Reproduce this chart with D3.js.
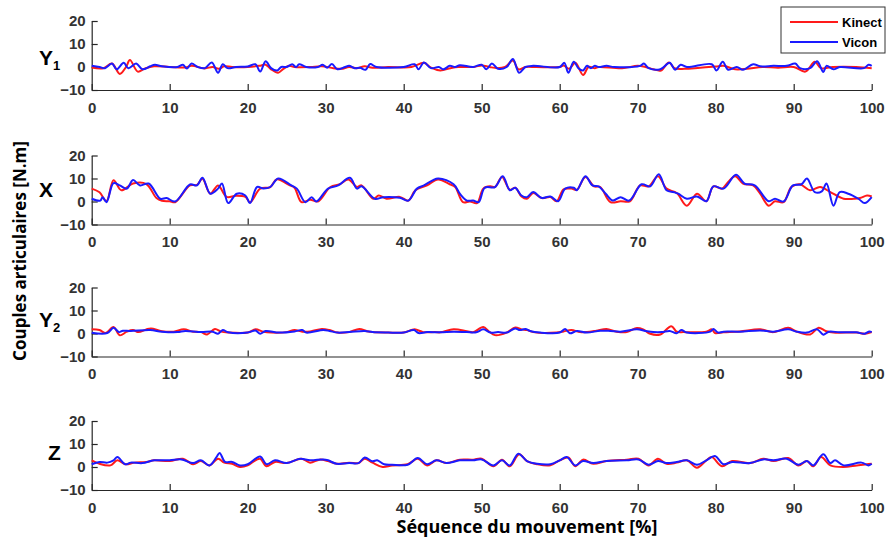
<!DOCTYPE html>
<html><head><meta charset="utf-8">
<script src="https://cdn.jsdelivr.net/npm/d3@7"></script>
<style>body{margin:0;background:#fff}svg{display:block}</style>
</head><body>
<svg id="c" width="887" height="544"></svg>
<script>
const xTicks = [0,10,20,30,40,50,60,70,80,90,100];
const yTicks = [-10,0,10,20];
const panelNames = ["Y","X","Y","Z"];
const panelSubs = ["1","","2",""];
const seriesNames = ["Kinect","Vicon"];
const seriesColors = ["#ff1a1a","#1a1aff"];

const y1Kinect = [[0,-0.2],[1.5,-0.5],[2.6,1.5],[3.6,-3],[4.4,0],[4.9,3],[5.9,-2],[6.8,-0.7],[8,0.3],[10,0],[12,-0.2],[12.8,0.5],[14.5,-0.6],[15.5,0],[16.3,-0.8],[17,0.3],[18,0],[20,0],[21.5,0.5],[22.3,1],[23,-1],[23.9,-2.5],[24.5,-1],[25.3,0.5],[26,0],[28,0],[29.5,0.3],[31,-0.5],[32,-0.8],[33,0],[34,-0.5],[35,0.3],[36,-0.3],[38,0],[41,0],[42.6,1.8],[43.5,-0.3],[44.7,-1.5],[46,-0.5],[47,0],[49,0],[50,0.7],[51,0],[52,-0.5],[53,0],[54,2.8],[54.7,-1],[55.6,0],[57,0],[60,0],[60.5,0.7],[61.2,-0.8],[62,1.8],[63,-3.5],[63.7,0],[64.5,-0.5],[65,0],[68,-0.5],[70,0.5],[71,0],[72,-1],[73,-1.5],[74,2],[74.7,-0.5],[76,-0.8],[78,-0.3],[80,0.2],[81,0.5],[82.5,-1],[84,-0.8],[86,0],[88,-0.3],[90,0],[91.5,-2],[92.7,2.3],[93.5,-0.5],[95,0],[98,0],[100,-0.5]];
const y1Vicon = [[0,0.5],[1,0],[1.7,-0.5],[2.6,1.5],[3.2,-1],[4.1,1.8],[4.7,-0.5],[5.7,1.5],[6.5,-1],[7.5,0.3],[8.1,1],[9,0.3],[11,0],[11.7,1],[12.2,-0.7],[12.8,1.5],[13.6,0],[14.5,-0.5],[15.4,2],[16.2,-2.5],[16.8,1.2],[17.4,-0.5],[18.5,0],[20,0.2],[21,1.2],[21.6,-2],[22.3,2.5],[23,-0.5],[23.8,-1.5],[24.3,0],[25,0],[25.7,1.2],[26.2,0],[26.6,1.2],[27.5,0],[29,0],[29.6,1],[30.2,-0.3],[30.8,1.3],[31.5,-1],[32.5,0],[33,0.5],[33.7,-0.5],[34.4,-0.3],[35.1,-1.2],[35.7,1.3],[36.5,0],[40,0],[41.4,1.2],[41.9,-1],[42.6,2],[43.5,-0.5],[44.5,0],[45.1,-1],[45.9,0.5],[46.6,0],[47.2,0.8],[48.9,0],[50,1],[50.6,-1],[51.3,1.5],[52.1,-0.8],[53.2,0],[54,3.5],[54.8,-2.5],[55.6,0],[56.6,0.5],[60,0],[60.6,1.8],[61.1,-2.5],[61.8,2.3],[62.4,-0.5],[63,-1.5],[63.5,0.5],[64,-0.5],[64.5,0.5],[65,0],[66,0.5],[67,0],[70.3,0.5],[70.8,1.5],[71.4,-0.5],[72.9,-1],[74.1,1.8],[74.8,-1.2],[75.5,1],[76.3,0],[79.5,1.2],[80.1,-1.5],[80.9,2.3],[81.6,-1.2],[82.7,0],[83.5,-1.2],[84.8,1.2],[85.7,0.3],[87.4,0.5],[89.1,0.5],[90.2,1.5],[90.8,-0.5],[92.1,-0.5],[93,2.5],[93.8,-2.2],[94.2,0.5],[95.1,-1],[95.9,0],[99,-0.5],[99.6,1],[100,0.5]];

const xKinect = [[0,5.6],[1,4],[1.9,0.2],[2.8,9.2],[3.8,4.9],[5.3,7.8],[7,7.6],[8.3,1.5],[9,0.3],[10,0.1],[10.7,-0.3],[12.6,7],[13.5,7.2],[14.2,9.9],[15.2,3.4],[16.2,7],[17.3,2],[18.5,2.5],[19.7,2],[20.3,-0.3],[21.6,5.6],[22.9,6.3],[23.7,9.6],[25.4,7],[26,6],[26.9,-0.3],[28,0.8],[29,0],[30.6,6.3],[31.8,7.5],[32.9,9.6],[34,6.3],[34.6,7],[36.1,1.2],[36.8,2.6],[37.8,1.2],[39.5,2],[40.6,0.4],[41.5,4.9],[43,7],[44.4,9.6],[45.9,7.5],[46.6,6.3],[47.6,-0.3],[48.5,0],[49.4,-0.7],[50.2,5.6],[51.1,6.6],[51.7,6.3],[52.6,10.7],[53.6,5.1],[54.3,6],[55.1,2.2],[55.8,1.2],[56.6,3.7],[57.7,1.5],[58.8,1.9],[59.6,0.1],[60.5,5.3],[61.5,5.6],[62.2,5.1],[63.3,10.7],[64.4,6.6],[65.2,6.3],[66.5,-0.3],[67.8,0.1],[69,0.1],[70.3,7],[71.4,6.6],[72.6,11],[73.7,5.6],[75,3.7],[76.3,-1.8],[77.6,3.4],[78.8,0.1],[79.7,6.6],[80.8,5.6],[81.6,8.5],[82.5,11],[83.5,7.8],[84.8,7],[85.7,3.4],[86.8,-1.8],[87.6,0.1],[88.7,-0.3],[89.7,6.3],[90.8,7.5],[92.1,4.9],[93.4,6.3],[94.7,4.1],[96.4,1.2],[97.7,1.2],[98.5,1.5],[99.4,2.6],[100,2.2]];
const xVicon = [[0,1.2],[1.1,0.4],[1.4,1.9],[1.9,-0.3],[2.8,8],[3.6,7],[4.5,5.6],[5.3,9.3],[6.2,7],[7.3,7.8],[8.8,1.2],[9.6,1.5],[10.7,0],[12.6,7.4],[13.5,7],[14.2,10.3],[15.2,3.4],[16.2,5.6],[16.7,7.8],[17.5,-0.7],[18.6,3.4],[19.7,2.6],[20.3,-0.7],[21.2,6.3],[22,5.6],[22.9,6.3],[23.9,10],[25.6,7],[26.3,5.6],[27.4,-0.3],[28.2,1.9],[28.8,0],[30.3,5.6],[31.6,7],[33.1,10.3],[34,5.6],[34.6,6.6],[36.3,1.2],[37.4,1.9],[39.5,1.6],[40.6,0.4],[41.7,5.6],[42.6,7],[44.4,10],[46.4,7.5],[47.2,3.4],[48.1,0.4],[48.9,0.4],[49.6,-0.3],[50.4,6],[51.7,6.3],[52.7,11],[53.6,4.9],[54.3,6],[55.1,2.6],[55.8,1.9],[56.6,4.1],[57.7,1.5],[58.8,2.2],[59.8,0.1],[60.7,5.6],[61.8,6],[62.2,4.9],[63.3,11],[64.2,7],[65,6.6],[65.9,3.4],[66.8,0.4],[67.8,1.9],[68.9,0.4],[70.5,7.5],[71.6,6.6],[72.7,11.9],[73.7,4.9],[74.6,4.1],[75.2,3.4],[76.3,1.2],[77.6,2.2],[78.8,0.1],[79.7,6.6],[81,5.6],[82.6,11.6],[83.7,7.8],[85,7],[86.8,0.1],[87.6,1.2],[88.7,0],[89.9,7],[91,7.5],[91.7,10],[92.7,4.1],[93.6,4.4],[94.2,7.8],[95.1,-1.8],[95.9,4.1],[97,3.4],[98.3,1.2],[99.1,-0.7],[100,1.9]];

const y2Kinect = [[0,1.8],[1,1.5],[1.8,0.2],[2.8,2.8],[3.6,-0.8],[4.5,0.8],[5.3,1.5],[6,0.6],[7,1.8],[7.6,2.2],[9,1],[10.5,0.8],[11.8,1.8],[13,0.8],[14,0.6],[14.8,-0.4],[15.8,2],[16.6,0.8],[17.5,0.4],[20,0.4],[21,1.8],[22,0.8],[23,0.4],[25,0.6],[26,1.5],[27,0.8],[28,0.9],[29.5,2],[30.5,1.5],[31.5,0.4],[33,0.6],[34.3,2],[35.3,1],[36,0.6],[38,0.4],[40,0.4],[41.4,1.8],[42.5,0.6],[44,0.6],[44.7,0.5],[46.4,1.8],[48.1,1],[48.9,0.6],[50.2,2.8],[50.9,1],[51.7,-0.7],[53.2,0.4],[54.3,2.6],[55.1,1.8],[55.8,1.5],[56.6,0.6],[59.6,0.4],[60.5,0.9],[61.5,1.5],[62.6,0.6],[63.5,0.6],[64.7,1.2],[66,2],[67.3,0.8],[68.6,0.6],[69.9,2.4],[70.7,1.8],[71.6,-0.1],[72.9,-0.4],[74.3,3.2],[75,0.8],[75.9,0.6],[78.8,0.8],[79.5,1.8],[79.9,0.2],[81,0.5],[83.1,0.9],[85.7,1.8],[87.4,0.6],[89.3,2.5],[90.4,0.8],[92.1,-0.4],[93.2,2.5],[94.1,1.1],[95.1,0.4],[98.1,0.4],[99.1,-0.1],[100,0.6]];
const y2Vicon = [[0,0.3],[2,0.2],[2.8,2.5],[3.5,0.6],[4,1.2],[5,1.1],[7.5,1.5],[9,0.8],[11,0.6],[12,1.1],[14,0.6],[15.5,0.8],[16.2,-0.1],[16.8,1.5],[17.5,0.5],[20,0.4],[21,1.3],[21.6,-0.1],[22.3,1.1],[24,0.4],[26,0.9],[27,1.5],[27.5,0.4],[29.7,1.5],[30.5,1.1],[31.5,0.4],[33,0.6],[35,1.1],[36,0.6],[38,0.4],[40,0.4],[41.3,1.5],[41.9,0.2],[43,0.6],[44.7,0.5],[46.4,0.8],[48.1,0.6],[49.3,0.5],[50.2,1.8],[51.1,0.4],[52.1,0.6],[53.2,0.4],[54.3,2.2],[54.9,1.5],[55.6,2],[56.2,1.1],[57.5,0.4],[60,0.4],[60.7,2],[61.3,0.1],[62.2,1.1],[63.5,0.4],[65.2,1.2],[66.5,1.1],[67.8,0.8],[69.9,1.8],[71,1.1],[72,0.6],[73.1,0.6],[74.1,1.1],[75,0.1],[75.6,1.5],[76.3,0.4],[79.3,0.8],[79.7,2],[80.3,0.4],[81,0.8],[83.1,0.8],[85.7,1.3],[87.4,0.8],[89.3,1.8],[90.4,0.8],[91.7,0.4],[93,1.8],[93.8,-0.5],[94.5,0.8],[95.9,0.5],[98,0.5],[99.1,-0.1],[99.7,0.9],[100,0.6]];

const zKinect = [[0,2.9],[1,1.4],[2.4,0.7],[3.3,2.9],[4.3,1.2],[5.5,1.9],[7,2.2],[8,2.9],[10,2.6],[11.7,3.6],[13,1.2],[14,2.6],[15.1,0.7],[16.2,3.6],[17,1.9],[18,1.4],[19,0],[20,0.7],[21,2.9],[21.6,3.6],[22.4,0.3],[23.5,2.2],[25,1.7],[26.9,3.6],[28,1.9],[29.2,3.2],[30.3,2.6],[31.4,1.4],[33,1.9],[34.2,1.7],[35,3.6],[36,1.9],[37.3,0],[38.5,0.7],[40.5,1.2],[41.8,3.6],[43,0.7],[44.2,2.9],[45.5,1.7],[47.2,3.2],[48.9,3.2],[50,3.6],[51.5,0.3],[52.6,3.2],[53.6,0.3],[54.8,5.5],[55.8,2.6],[57.1,1.2],[58.8,0.7],[60,2.9],[61.1,4.1],[62,0.3],[63,3.2],[64.3,1.4],[66,2.6],[68.6,3.2],[70.1,3.6],[71.4,0.7],[72.6,3.6],[73.7,1.4],[75,1.9],[76.3,2.9],[77.6,-0.3],[78.8,2.9],[79.5,4.3],[80.8,0.3],[82.1,2.6],[84.4,1.7],[86.1,3.6],[87.4,2.6],[89.3,3.9],[90.6,0.7],[91.7,2.6],[92.5,0.3],[93.5,4.3],[94.7,0.7],[96.4,0],[98.1,0.7],[99.4,1.2],[100,1.4]];
const zVicon = [[0,1.2],[1,2.2],[2,1.9],[2.8,2.9],[3.3,4.3],[4.3,1.2],[5,1.9],[6.5,1.7],[8,2.9],[10,2.9],[11.5,3.3],[13,1.7],[14,2.9],[15.1,0.7],[16,4.3],[16.4,6.1],[17.1,2.2],[18,2.2],[19,0.7],[20,1.2],[21.6,4.6],[22.4,1.2],[23.5,2.9],[25,1.7],[26.7,3.6],[28,2.9],[29.7,3.3],[30.3,2.9],[31.4,1.4],[33,1.7],[34.2,1.7],[35,4.1],[36,2.5],[36.6,2.9],[37.5,1.2],[38.5,1],[40.5,1],[41.8,3.9],[43,1.2],[44.2,2.9],[45.5,1.7],[47.2,2.9],[48.9,2.9],[50,3.3],[51.5,0.7],[52.6,2.9],[53.6,0.7],[54.7,5.8],[55.8,2.6],[57.1,1.4],[58.8,1.2],[60,2.9],[60.9,4.3],[62,0.7],[63,2.6],[64.3,1.7],[66,2.6],[68.6,2.9],[70.1,3.3],[71.4,1],[72.6,2.6],[73.7,1.7],[75,2.2],[76.3,2.9],[77.6,1],[78.8,2.9],[79.9,4.8],[81,1.2],[82.1,2.2],[84.4,1.7],[86.1,3.3],[87.4,2.9],[89.1,3.6],[90.6,1],[91.7,2.6],[92.5,0.7],[93.8,5.5],[94.7,1.7],[95.3,2.9],[96.4,0.7],[98.7,1.9],[99.6,0.7],[100,1.4]];

const panelsData = [[y1Kinect,y1Vicon],[xKinect,xVicon],[y2Kinect,y2Vicon],[zKinect,zVicon]];

const svg = d3.select("#c");
const left = 91.7, right = 871.7;
const tops = [21, 155.5, 287.5, 421];
const ph = 69;
const x = d3.scaleLinear().domain([0,100]).range([left,right]);
const axisColor = "#262626";
const tickFont = "'Liberation Sans', Arial, sans-serif";

panelsData.forEach((pd, i) => {
  const y = d3.scaleLinear().domain([-10,20]).range([tops[i]+ph, tops[i]]);
  const g = svg.append("g");
  const ax = g.append("g").attr("transform", `translate(0,${tops[i]+ph})`)
    .call(d3.axisBottom(x).tickValues(xTicks).tickSize(-6).tickSizeOuter(0).tickPadding(12));
  const ay = g.append("g").attr("transform", `translate(${left},0)`)
    .call(d3.axisLeft(y).tickValues(yTicks).tickSize(-6).tickSizeOuter(0).tickPadding(6));
  [ax, ay].forEach(a => {
    a.select(".domain").attr("stroke", axisColor).attr("stroke-width", 1.2);
    a.selectAll(".tick line").attr("stroke", axisColor).attr("stroke-width", 1.2);
    a.selectAll("text").attr("fill", "#333").attr("font-family", tickFont)
      .attr("font-weight", "bold").attr("font-size", "15px");
  });
  ax.selectAll("text").attr("dy", "0.71em");
  const line = d3.line().x(d => x(d[0])).y(d => y(d[1])).curve(d3.curveCatmullRom.alpha(0.5));
  pd.forEach((s, k) => {
    g.append("path").datum(s).attr("d", line).attr("fill", "none")
      .attr("stroke", seriesColors[k]).attr("stroke-width", 2).attr("stroke-linejoin", "round");
  });
  const lx = [39, 39, 39, 48][i];
  const ly = [65, 197, 327, 460][i];
  const t = svg.append("text").attr("x", lx).attr("y", ly)
    .attr("font-family", tickFont).attr("font-weight", "bold").attr("font-size", "21px").attr("fill", "#000")
    .text(panelNames[i]);
  if (panelSubs[i]) t.append("tspan").attr("font-size", "13px").attr("dy", 5).text(panelSubs[i]);
});

svg.append("text").attr("transform", "translate(26,251) rotate(-90)")
  .attr("text-anchor", "middle").attr("font-family", "'Open Sans', sans-serif")
  .attr("font-weight", "bold").attr("font-size", "17px").attr("fill", "#000")
  .text("Couples articulaires [N.m]");
svg.append("text").attr("x", 527).attr("y", 533)
  .attr("text-anchor", "middle").attr("font-family", "'Open Sans', sans-serif")
  .attr("font-weight", "bold").attr("font-size", "18px").attr("fill", "#000")
  .text("Séquence du mouvement [%]");

const lg = svg.append("g");
lg.append("rect").attr("x", 781).attr("y", 7).attr("width", 104).attr("height", 46)
  .attr("fill", "#fff").attr("stroke", "#333").attr("stroke-width", 1);
seriesNames.forEach((n, k) => {
  const yy = 22 + k*20;
  lg.append("line").attr("x1", 790).attr("x2", 838).attr("y1", yy).attr("y2", yy)
    .attr("stroke", seriesColors[k]).attr("stroke-width", 2);
  lg.append("text").attr("x", 842).attr("y", yy + 5).attr("font-family", tickFont)
    .attr("font-weight", "bold").attr("font-size", "13px").attr("fill", "#000").text(n);
});
</script>
</body></html>
